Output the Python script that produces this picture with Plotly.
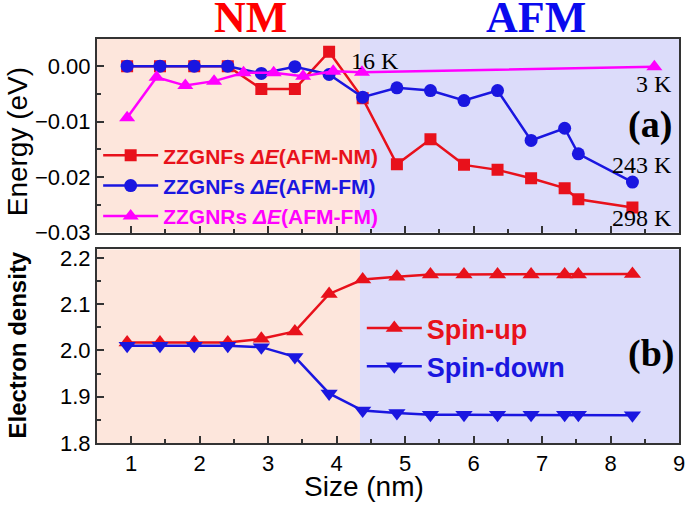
import plotly.graph_objects as go

# --- dane
size_nf = [0.94, 1.42, 1.92, 2.41, 2.90, 3.39, 3.89, 4.38, 4.88, 5.37, 5.86, 6.35, 6.84, 7.33, 7.53, 8.32]
de_afm_nm = [0.0, 0.0, 0.0, 0.0, -0.0041, -0.0041, 0.0026, -0.0058, -0.0177, -0.0132,
             -0.0178, -0.0187, -0.0202, -0.0220, -0.0240, -0.0255]
de_afm_fm_nf = [0.0, 0.0, 0.0, 0.0, -0.0013, -0.0001, -0.0015, -0.0056, -0.0039, -0.0044,
                -0.0062, -0.0044, -0.0134, -0.0112, -0.0158, -0.0209]

size_nr = [0.94, 1.37, 1.79, 2.21, 2.64, 3.08, 3.51, 3.95, 4.37, 8.64]
de_afm_fm_nr = [-0.0093, -0.0020, -0.0035, -0.0027, -0.0012, -0.0012, -0.0018, -0.0009, -0.0011, -0.0001]

spin_up = [2.017, 2.017, 2.017, 2.017, 2.025, 2.041, 2.122, 2.153, 2.159, 2.164,
           2.164, 2.164, 2.164, 2.164, 2.164, 2.165]
spin_down = [2.010, 2.010, 2.010, 2.010, 2.007, 1.986, 1.907, 1.870, 1.865, 1.861,
             1.861, 1.861, 1.861, 1.861, 1.861, 1.860]

nm_afm_boundary = 4.34
temp_labels = ["16 K", "3 K", "243 K", "298 K"]

RED = "#e8111b"
BLUE = "#1a16e0"
MAGENTA = "#ff00ff"
SANS = "Liberation Sans, Arial"
SERIF = "Liberation Serif, Times New Roman"

fig = go.Figure()

# --- panel (a)
fig.add_trace(go.Scatter(
    x=size_nf, y=de_afm_nm, mode="lines+markers",
    line=dict(color=RED, width=2.5),
    marker=dict(symbol="square", size=12, color=RED),
    name=f'<span style="color:{RED}">ZZGNFs <i>ΔE</i>(AFM-NM)</span>',
    xaxis="x", yaxis="y", legend="legend",
))
fig.add_trace(go.Scatter(
    x=size_nf, y=de_afm_fm_nf, mode="lines+markers",
    line=dict(color=BLUE, width=2.5),
    marker=dict(symbol="circle", size=13, color=BLUE),
    name=f'<span style="color:{BLUE}">ZZGNFs <i>ΔE</i>(AFM-FM)</span>',
    xaxis="x", yaxis="y", legend="legend",
))
fig.add_trace(go.Scatter(
    x=size_nr, y=de_afm_fm_nr, mode="lines+markers",
    line=dict(color=MAGENTA, width=2.5),
    marker=dict(symbol="triangle-up", size=14, color=MAGENTA),
    name=f'<span style="color:{MAGENTA}">ZZGNRs <i>ΔE</i>(AFM-FM)</span>',
    xaxis="x", yaxis="y", legend="legend",
))

# --- panel (b)
fig.add_trace(go.Scatter(
    x=size_nf, y=spin_up, mode="lines+markers",
    line=dict(color=RED, width=2.5),
    marker=dict(symbol="triangle-up", size=15, color=RED),
    name=f'<span style="color:{RED}">Spin-up</span>',
    xaxis="x2", yaxis="y2", legend="legend2",
))
fig.add_trace(go.Scatter(
    x=size_nf, y=spin_down, mode="lines+markers",
    line=dict(color=BLUE, width=2.5),
    marker=dict(symbol="triangle-down", size=15, color=BLUE),
    name=f'<span style="color:{BLUE}">Spin-down</span>',
    xaxis="x2", yaxis="y2", legend="legend2",
))

# --- tło NM / AFM
shapes = []
for yr in ["y domain", "y2 domain"]:
    xr = "x" if yr == "y domain" else "x2"
    shapes.append(dict(type="rect", xref=xr, yref=yr, x0=0.5, x1=nm_afm_boundary, y0=0, y1=1,
                       fillcolor="#fde6dc", line=dict(width=0), layer="below"))
    shapes.append(dict(type="rect", xref=xr, yref=yr, x0=nm_afm_boundary, x1=9, y0=0, y1=1,
                       fillcolor="#dcdcfa", line=dict(width=0), layer="below"))

axis_common = dict(
    showline=True, mirror=True, linecolor="#333333", linewidth=2,
    ticks="inside", ticklen=7, tickwidth=1.5, tickcolor="#333333",
    showgrid=False, zeroline=False, automargin=False, ticklabeloverflow="allow",
    tickfont=dict(family=SANS, size=22, color="black"),
)

annotations = [
    dict(text="<b>NM</b>", x=2.74, y=1.053, xref="x", yref="paper", showarrow=False,
         yanchor="middle", font=dict(family=SERIF, size=44, color="#ff0000")),
    dict(text="<b>AFM</b>", x=6.91, y=1.053, xref="x", yref="paper", showarrow=False,
         yanchor="middle", font=dict(family=SERIF, size=44, color="#0a0aee")),
    dict(text=temp_labels[0], x=4.56, y=0.0010, xref="x", yref="y", showarrow=False,
         font=dict(family=SERIF, size=24, color="black")),
    dict(text=temp_labels[1], x=8.92, y=-0.0033, xref="x", yref="y", showarrow=False, xanchor="right",
         font=dict(family=SERIF, size=24, color="black")),
    dict(text="<b>(a)</b>", x=8.92, y=-0.0105, xref="x", yref="y", showarrow=False, xanchor="right",
         font=dict(family=SERIF, size=38, color="black")),
    dict(text=temp_labels[2], x=8.92, y=-0.0179, xref="x", yref="y", showarrow=False, xanchor="right",
         font=dict(family=SERIF, size=24, color="black")),
    dict(text=temp_labels[3], x=8.92, y=-0.0274, xref="x", yref="y", showarrow=False, xanchor="right",
         font=dict(family=SERIF, size=24, color="black")),
    dict(text="<b>(b)</b>", x=8.95, y=1.993, xref="x2", yref="y2", showarrow=False, xanchor="right",
         font=dict(family=SERIF, size=38, color="black")),
    # tytuły osi
    dict(text="Energy (eV)", x=-0.137, y=0.745, xref="paper", yref="paper", showarrow=False,
         xanchor="center", yanchor="middle",
         textangle=-90, font=dict(family=SANS, size=28, color="black")),
    dict(text="<b>Electron density</b>", x=-0.137, y=0.242, xref="paper", yref="paper", showarrow=False,
         xanchor="center", yanchor="middle",
         textangle=-90, font=dict(family=SANS, size=24, color="black")),
    dict(text="Size (nm)", x=0.458, y=-0.107, xref="paper", yref="paper", showarrow=False,
         xanchor="center", yanchor="middle", font=dict(family=SANS, size=28, color="black")),
]

fig.update_layout(
    width=685, height=512,
    margin=dict(l=97, r=6, t=39, b=69),
    paper_bgcolor="white", plot_bgcolor="white",
    shapes=shapes, annotations=annotations,
    xaxis=dict(axis_common, domain=[0, 1], range=[0.5, 9], dtick=1, showticklabels=False,
               minor=dict(dtick=0.5, ticks="inside", ticklen=4, tickcolor="#333333"),
               anchor="y"),
    yaxis=dict(axis_common, domain=[0.521, 1], range=[-0.030, 0.0049], dtick=0.01, tickformat=".2f",
               minor=dict(dtick=0.005, ticks="inside", ticklen=4, tickcolor="#333333"),
               anchor="x"),
    xaxis2=dict(axis_common, domain=[0, 1], range=[0.5, 9], dtick=1,
                minor=dict(dtick=0.5, ticks="inside", ticklen=4, tickcolor="#333333"),
                anchor="y2"),
    yaxis2=dict(axis_common, domain=[0, 0.479], range=[1.8, 2.218], dtick=0.1, tickformat=".1f",
                minor=dict(dtick=0.05, ticks="inside", ticklen=4, tickcolor="#333333"),
                anchor="x2"),
    legend=dict(x=0.002, y=0.762, xanchor="left", yanchor="top", bgcolor="rgba(0,0,0,0)",
                itemwidth=55, tracegroupgap=0,
                font=dict(family=SANS, size=21, color="black", weight="bold")),
    legend2=dict(x=0.455, y=0.344, xanchor="left", yanchor="top", bgcolor="rgba(0,0,0,0)",
                 itemwidth=55, tracegroupgap=0,
                 font=dict(family=SANS, size=27, color="black", weight="bold")),
    showlegend=True,
)

# strona bez marginesu body, żeby wykres zaczynał się w rogu okna
fig.write_html("out.html", config={"displayModeBar": False},
               post_script="document.body.style.margin='0';")
